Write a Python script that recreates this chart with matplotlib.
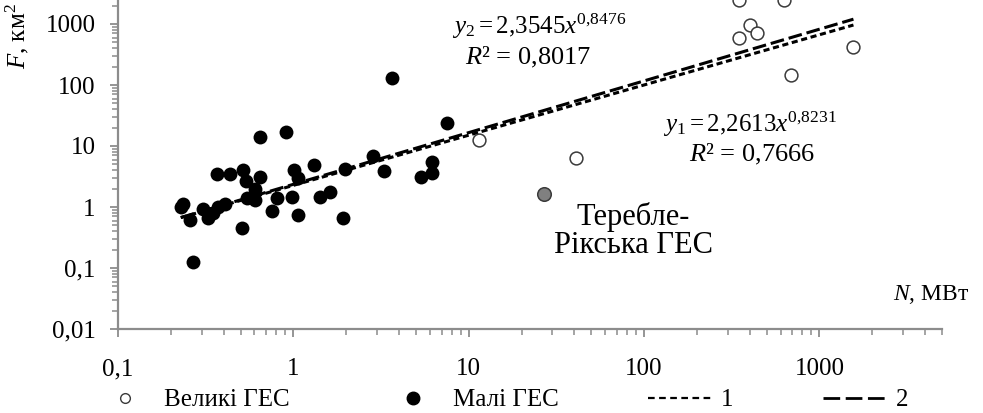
import numpy as np
import matplotlib
matplotlib.use("Agg")
import matplotlib.pyplot as plt
from matplotlib.lines import Line2D
from matplotlib.ticker import FixedLocator, LogLocator, NullFormatter

plt.rcParams['font.family'] = ['Liberation Serif', 'DejaVu Serif']
plt.rcParams['mathtext.fontset'] = 'custom'
plt.rcParams['mathtext.rm'] = 'Liberation Serif'
plt.rcParams['mathtext.it'] = 'Liberation Serif:italic'

# Великі ГЕС (N, МВт / F, км2)
big_n = [11.4, 41.0, 347, 403, 439, 692, 1563, 347, 631]
big_f = [12.5, 6.3, 583, 963, 720, 146, 425, 2450, 2500]

# Теребле-Ріцька ГЕС (окремо, сірий маркер)
tr_n = [26.7]
tr_f = [1.63]

# Малі ГЕС
small_n = [3.67, 7.52, 2.85, 3.29, 6.21, 6.20, 5.33,
           0.644, 0.903, 0.368, 0.435, 0.518, 0.535, 0.644, 1.01, 1.065,
           1.31, 1.97, 0.604, 0.541, 0.604, 0.802, 0.977, 1.42, 1.61,
           0.236, 0.228, 0.257, 0.306, 0.327, 0.373, 0.408, 0.757, 1.06,
           1.91, 0.507, 0.267, 0.348]
small_f = [132, 23.5, 6.9, 3.89, 5.53, 3.57, 3.07,
           14.2, 17.1, 3.44, 3.47, 4.04, 2.67, 3.14, 4.04, 3.02,
           4.88, 4.25, 1.95, 1.42, 1.30, 1.39, 1.44, 1.44, 1.78,
           1.12, 0.99, 0.61, 0.92, 0.65, 1.01, 1.11, 0.86, 0.74,
           0.65, 0.448, 0.124, 0.80]

# power trend lines y = a*x^b
trend1 = [2.2613, 0.8231]
trend2 = [2.3545, 0.8476]

x_ticks = [0.1, 1, 10, 100, 1000]
x_labels = ['0,1', '1', '10', '100', '1000']
y_ticks = [0.01, 0.1, 1, 10, 100, 1000]
y_labels = ['0,01', '0,1', '1', '10', '100', '1000']

W, H = 983, 413
fig = plt.figure(figsize=(W / 100, H / 100), dpi=100)
# axis top lies above the visible picture (cropped like the original)
ax = fig.add_axes([118 / W, 1 - 329 / H, 824 / W, 366 / H])

ax.set_xscale('log')
ax.set_yscale('log')
ax.set_xlim(0.1, 5000)
ax.set_ylim(0.01, 10000)

all_n = small_n + big_n + tr_n
xs = np.geomspace(min(all_n), max(all_n), 200)
ax.plot(xs, trend1[0] * xs ** trend1[1], color='black', lw=2.2,
        ls=(0, (2.0, 1.2)), zorder=3)
ax.plot(xs, trend2[0] * xs ** trend2[1], color='black', lw=2.2,
        ls=(0, (4.5, 1.6)), zorder=3)

ax.scatter(small_n, small_f, s=100, color='black', zorder=4, linewidths=0)
ax.scatter(big_n, big_f, s=85, facecolor='white', edgecolor='#3a3a3a',
           linewidths=1.1, zorder=4)
ax.scatter(tr_n, tr_f, s=95, facecolor='#808080', edgecolor='#3a3a3a',
           linewidths=1.1, zorder=4)

for s in ['top', 'right']:
    ax.spines[s].set_visible(False)
for s in ['left', 'bottom']:
    ax.spines[s].set_color('#8c8c8c')
    ax.spines[s].set_linewidth(1.6)

ax.xaxis.set_major_locator(FixedLocator(x_ticks))
ax.set_xticklabels(x_labels)
ax.yaxis.set_major_locator(FixedLocator(y_ticks))
ax.set_yticklabels(y_labels)
ax.xaxis.set_minor_locator(LogLocator(base=10, subs=np.arange(2, 10)))
ax.yaxis.set_minor_locator(LogLocator(base=10, subs=np.arange(2, 10)))
ax.xaxis.set_minor_formatter(NullFormatter())
ax.yaxis.set_minor_formatter(NullFormatter())
ax.tick_params(which='major', direction='out', length=6, width=1.3,
               color='#8c8c8c', labelsize=18)
ax.tick_params(which='minor', direction='out', length=4, width=1.1,
               color='#8c8c8c')
ax.tick_params(axis='x', which='major', pad=15)
ax.tick_params(axis='y', which='major', pad=10)

# labels and equations
fig.text(17 / W, 1 - 36 / H, r'$F$, км$^2$', rotation=90, ha='center',
         va='center', fontsize=18)
fig.text(931 / W, 1 - 300 / H, r'$N$, МВт', ha='center', va='baseline',
         fontsize=17)
fig.text(539 / W, 1 - 34 / H, r'$y_2 = 2{,}3545x^{0{,}8476}$',
         ha='center', va='baseline', fontsize=18)
fig.text(528 / W, 1 - 64 / H, r'$R$² = 0,8017', ha='center',
         va='baseline', fontsize=19)
fig.text(750 / W, 1 - 132 / H, r'$y_1 = 2{,}2613x^{0{,}8231}$',
         ha='center', va='baseline', fontsize=18)
fig.text(752 / W, 1 - 161 / H, r'$R$² = 0,7666', ha='center',
         va='baseline', fontsize=19)
fig.text(633 / W, 1 - 225 / H, 'Теребле-', ha='center', va='baseline',
         fontsize=22)
fig.text(634 / W, 1 - 253 / H, 'Рікська ГЕС', ha='center', va='baseline',
         fontsize=22)

handles = [
    Line2D([], [], marker='o', ls='none', mfc='white', mec='#3a3a3a', ms=7,
           mew=1.0),
    Line2D([], [], marker='o', ls='none', color='black', ms=9),
    Line2D([], [], color='black', lw=1.6, ls=(0, (3, 2))),
    Line2D([], [], color='black', lw=2.0, ls=(0, (6, 2))),
]
labels = ['Великі ГЕС', 'Малі ГЕС', '1', '2']
fig.legend(handles, labels, ncol=4, loc='center left',
           bbox_to_anchor=(92 / W, 1 - 400 / H), frameon=False,
           fontsize=18, handlelength=2.6, handletextpad=0.3,
           columnspacing=3.6, borderpad=0, borderaxespad=0)

fig.savefig('out.png', dpi=100)
